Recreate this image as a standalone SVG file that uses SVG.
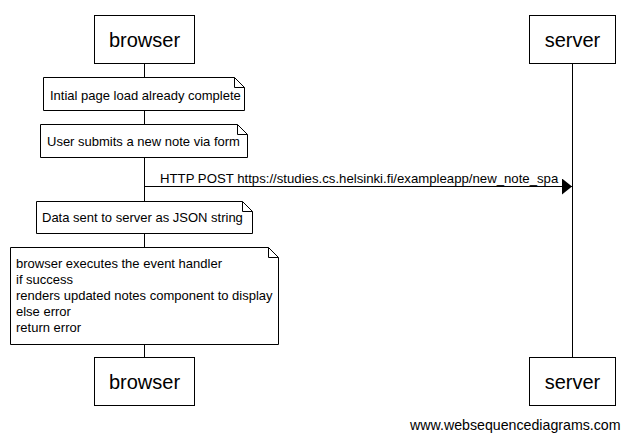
<svg xmlns="http://www.w3.org/2000/svg" width="630" height="440" viewBox="0 0 630 440">
<defs>
<style>
.box{fill:#fff;stroke:#000;stroke-width:1}
.note{fill:#fff;stroke:#000;stroke-width:1}
.fold{fill:none;stroke:#000;stroke-width:1}
.life{stroke:#000;stroke-width:1}
.actor{font-family:"Liberation Sans",Arial,sans-serif;font-size:20px;text-anchor:middle}
.t{font-family:"Liberation Sans",Arial,sans-serif;font-size:13px}
</style>
<marker id="ah" markerWidth="10" markerHeight="16" refX="10" refY="8" orient="auto" markerUnits="userSpaceOnUse">
<path d="M0,0 L10,8 L0,16 Z" fill="#000"/>
</marker>
</defs>
<rect width="630" height="440" fill="#fff"/>
<g id="lifelines">
<line class="life" x1="144.5" y1="64" x2="144.5" y2="357"/>
<line class="life" x1="572.5" y1="64" x2="572.5" y2="357"/>
</g>
<g id="browser-top"><rect class="box" x="94.5" y="15.5" width="100" height="48"/><text class="actor" x="144.5" y="47">browser</text></g>
<g id="server-top"><rect class="box" x="529.5" y="15.5" width="86" height="48"/><text class="actor" x="572.5" y="47">server</text></g>
<g id="browser-bottom"><rect class="box" x="94.5" y="357.5" width="100" height="48"/><text class="actor" x="144.5" y="389">browser</text></g>
<g id="server-bottom"><rect class="box" x="529.5" y="357.5" width="86" height="48"/><text class="actor" x="572.5" y="389">server</text></g>
<g id="note1"><path class="note" d="M43.5,77.5 H234.5 L244.5,87.5 V110.5 H43.5 Z"/><path class="fold" d="M234.5,77.5 V87.5 H244.5"/><text class="t" x="50" y="100">Intial page load already complete</text></g>
<g id="note2"><path class="note" d="M40.5,124.5 H237.5 L247.5,134.5 V157.5 H40.5 Z"/><path class="fold" d="M237.5,124.5 V134.5 H247.5"/><text class="t" x="47" y="146">User submits a new note via form</text></g>
<g id="connectors">
<line x1="144.5" y1="186.5" x2="572" y2="186.5" stroke="#000" stroke-width="1" marker-end="url(#ah)"/>
<text class="t" x="160" y="183" style="font-size:13.2px">HTTP POST https://studies.cs.helsinki.fi/exampleapp/new_note_spa</text>
</g>
<g id="note3"><path class="note" d="M36.5,201.5 H242.5 L252.5,211.5 V233.5 H36.5 Z"/><path class="fold" d="M242.5,201.5 V211.5 H252.5"/><text class="t" x="42" y="222">Data sent to server as JSON string</text></g>
<g id="note4"><path class="note" d="M10.5,247.5 H268.5 L278.5,257.5 V344.5 H10.5 Z"/><path class="fold" d="M268.5,247.5 V257.5 H278.5"/>
<text class="t" x="16" y="268">browser executes the event handler</text>
<text class="t" x="16" y="284">if success</text>
<text class="t" x="16" y="300">renders updated notes component to display</text>
<text class="t" x="16" y="316">else error</text>
<text class="t" x="16" y="332">return error</text>
</g>
<text class="t" x="410" y="430" style="font-size:14.2px">www.websequencediagrams.com</text>
</svg>
